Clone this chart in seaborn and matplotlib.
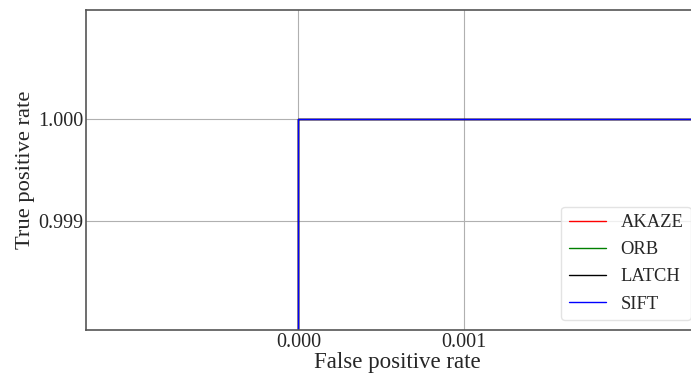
import pandas as pd
import matplotlib
matplotlib.use("Agg")
import matplotlib.pyplot as plt
import seaborn as sns

# ROC points for each descriptor
methods = ["AKAZE", "ORB", "LATCH", "SIFT"]
fpr = [0.0, 0.0, 1.0]
tpr = [0.0, 1.0, 1.0]
line_colors = ["r", "g", "k", "b"]

rows = []
for m in methods:
    for i in range(len(fpr)):
        rows.append({"method": m, "step": i, "fpr": fpr[i], "tpr": tpr[i]})
df = pd.DataFrame(rows)

sns.set_style("whitegrid")
plt.rcParams['font.family'] = ['Liberation Serif', 'DejaVu Serif']
plt.rcParams['mathtext.fontset'] = 'stix'

fig = plt.figure(figsize=(6.91, 3.76), dpi=100)
ax = fig.add_axes([0.1245, 0.1223, 0.9, 0.8511])

sns.lineplot(data=df, x="fpr", y="tpr", hue="method", hue_order=methods,
             palette=line_colors, sort=False, estimator=None, units="method",
             linewidth=1, ax=ax)

ax.set_xlim(-0.0012818, 0.0024702)
ax.set_ylim(0.99793, 1.00107)
ax.set_xticks([0.0, 0.001])
ax.set_yticks([0.999, 1.0])
ax.set_xticklabels(["0.000", "0.001"], fontsize=14.5)
ax.set_yticklabels(["0.999", "1.000"], fontsize=14.5)
ax.tick_params(length=0, pad=2)
ax.grid(color="#b0b0b0", linewidth=0.8)

for s in ax.spines.values():
    s.set_color("#555555")
    s.set_linewidth(1.2)

ax.set_xlabel("False positive rate", fontsize=16.5, labelpad=0)
ax.set_ylabel("True positive rate", fontsize=16.2, labelpad=2)

leg = ax.legend(loc="lower right", fontsize=13.3, title=None, frameon=True,
                handlelength=2.0, borderaxespad=0, labelspacing=0.55,
                bbox_to_anchor=(0.9995, 56 / 376), bbox_transform=fig.transFigure)
leg.get_frame().set_edgecolor("#dddddd")

fig.savefig("out.png", dpi=100)
